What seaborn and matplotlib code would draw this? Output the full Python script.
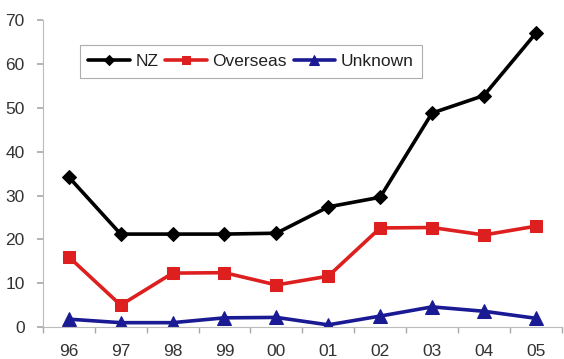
import matplotlib
matplotlib.use("Agg")
import matplotlib.pyplot as plt
import seaborn as sns
import pandas as pd
from matplotlib.ticker import MultipleLocator, FixedLocator

years = ["96", "97", "98", "99", "00", "01", "02", "03", "04", "05"]
nz = [34.2, 21.2, 21.2, 21.2, 21.4, 27.4, 29.6, 48.8, 52.8, 67.0]
overseas = [16.0, 5.0, 12.3, 12.4, 9.6, 11.6, 22.6, 22.7, 21.0, 23.0]
unknown = [1.8, 1.0, 1.0, 2.1, 2.2, 0.5, 2.5, 4.6, 3.6, 2.0]

series_names = ["NZ", "Overseas", "Unknown"]
colors = {"NZ": "#000000", "Overseas": "#de1f1f", "Unknown": "#1a1a94"}
markers = {"NZ": "D", "Overseas": "s", "Unknown": "^"}
sizes = {"NZ": 7, "Overseas": 9, "Unknown": 10}

df = pd.DataFrame({"year": years, "NZ": nz, "Overseas": overseas, "Unknown": unknown})
long = df.melt(id_vars="year", var_name="series", value_name="count")
long["pos"] = long["year"].map({y: i for i, y in enumerate(years)})

sns.set_theme(style="white")
plt.rcParams["font.family"] = ["Liberation Sans", "DejaVu Sans"]

fig = plt.figure(figsize=(5.64, 3.59), dpi=100)
ax = fig.add_axes([0.076, 0.089, 0.92, 0.855])

for name in series_names:
    sub = long[long["series"] == name]
    sns.lineplot(data=sub, x="pos", y="count", ax=ax, color=colors[name],
                 marker=markers[name], markersize=sizes[name],
                 markeredgecolor=colors[name], linewidth=2.6,
                 sort=False, label=name)

ax.set_xlim(-0.5, len(years) - 0.5)
ax.set_ylim(0, 70)
ax.yaxis.set_major_locator(MultipleLocator(10))
ax.xaxis.set_major_locator(FixedLocator(range(len(years))))
ax.set_xticklabels(years)
ax.xaxis.set_minor_locator(FixedLocator([i - 0.5 for i in range(len(years) + 1)]))
ax.tick_params(axis="x", which="major", length=0, pad=12, labelsize=12.5, labelcolor="#333333")
ax.tick_params(axis="x", which="minor", length=4, color="#aaaaaa", direction="out", bottom=True)
ax.tick_params(axis="y", length=4, color="#aaaaaa", direction="out", left=True,
               labelsize=12.5, labelcolor="#333333", pad=9)
ax.set_xlabel("")
ax.set_ylabel("")

for side in ["top", "right"]:
    ax.spines[side].set_visible(False)
for side in ["left", "bottom"]:
    ax.spines[side].set_color("#bbbbbb")
    ax.spines[side].set_linewidth(0.8)

leg = ax.legend(loc="upper left", bbox_to_anchor=(0.071, 0.918), ncol=3,
                frameon=True, fancybox=False, fontsize=12.5, borderaxespad=0,
                handlelength=2.4, handletextpad=0.3, columnspacing=0.4,
                borderpad=0.5, markerscale=0.7)
leg.get_frame().set_edgecolor("#999999")
leg.get_frame().set_linewidth(0.8)
for t in leg.get_texts():
    t.set_color("#222222")

fig.savefig("out.png", dpi=100, facecolor="white")
